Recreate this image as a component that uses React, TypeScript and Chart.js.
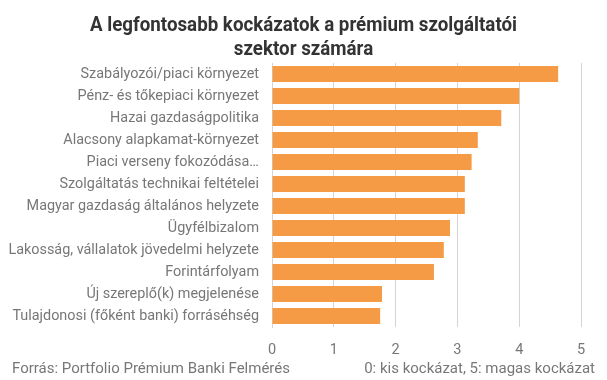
import React, { useEffect, useRef } from "react";
import { Chart, registerables } from "chart.js";

Chart.register(...registerables);

const categories: string[] = [
  "Szabályozói/piaci környezet",
  "Pénz- és tőkepiaci környezet",
  "Hazai gazdaságpolitika",
  "Alacsony alapkamat-környezet",
  "Piaci verseny fokozódása…",
  "Szolgáltatás technikai feltételei",
  "Magyar gazdaság általános helyzete",
  "Ügyfélbizalom",
  "Lakosság, vállalatok jövedelmi helyzete",
  "Forintárfolyam",
  "Új szereplő(k) megjelenése",
  "Tulajdonosi (főként banki) forráséhség",
];

const values: number[] = [4.63, 4.0, 3.71, 3.33, 3.23, 3.12, 3.12, 2.88, 2.78, 2.62, 1.78, 1.75];

const titleLines: string[] = ["A legfontosabb kockázatok a prémium szolgáltatói", "szektor számára"];
const sourceText = "Forrás: Portfolio Prémium Banki Felmérés";
const noteText = "0: kis kockázat, 5: magas kockázat";

const textPlugin = {
  id: "customText",
  afterDraw(chart: any) {
    const ctx = chart.ctx as CanvasRenderingContext2D;
    const w = chart.width;
    ctx.save();
    ctx.fillStyle = "#333333";
    ctx.font = "bold 20px Roboto";
    ctx.textAlign = "center";
    ctx.textBaseline = "alphabetic";
    const baselines = [30.7, 55];
    titleLines.forEach((line, i) => {
      ctx.save();
      ctx.translate(w / 2, baselines[i]);
      ctx.scale(0.937, 1);
      ctx.fillText(line, 0, 0);
      ctx.restore();
    });
    ctx.fillStyle = "#777777";
    ctx.font = "15px Roboto";
    ctx.textAlign = "left";
    ctx.fillText(sourceText, 12, 373);
    ctx.textAlign = "right";
    ctx.fillText(noteText, 595, 373);
    ctx.restore();
  },
};

export default function App() {
  const ref = useRef<HTMLCanvasElement>(null);
  useEffect(() => {
    document.body.style.margin = "0";
    const chart = new Chart(ref.current!, {
      type: "bar",
      data: {
        labels: categories,
        datasets: [
          {
            data: values,
            backgroundColor: "#F59B45",
            barPercentage: 0.727,
            categoryPercentage: 1,
          },
        ],
      },
      options: {
        indexAxis: "y",
        animation: false,
        responsive: false,
        layout: { padding: { top: 63, right: 26, left: 0, bottom: 0 } },
        plugins: { legend: { display: false }, tooltip: { enabled: false } },
        scales: {
          x: {
            min: 0,
            max: 5,
            ticks: { stepSize: 1, color: "#777777", font: { family: "Roboto", size: 14.5 }, padding: 15 },
            grid: { color: "#d4d4d4", lineWidth: 1, drawTicks: false },
            border: { display: false },
            afterFit(scale: any) {
              scale.height = 53;
            },
          },
          y: {
            ticks: { color: "#777777", font: { family: "Roboto", size: 14.4 }, padding: 13 },
            grid: { display: false, drawTicks: false },
            border: { display: true, color: "#d4d4d4" },
            afterFit(scale: any) {
              scale.width = 272;
            },
          },
        },
      },
      plugins: [textPlugin],
    });
    return () => chart.destroy();
  }, []);
  return (
    <div style={{ position: "absolute", left: 0, top: 0, width: 607, height: 380 }}>
      <canvas ref={ref} width={607} height={380} style={{ width: 607, height: 380 }} />
    </div>
  );
}
